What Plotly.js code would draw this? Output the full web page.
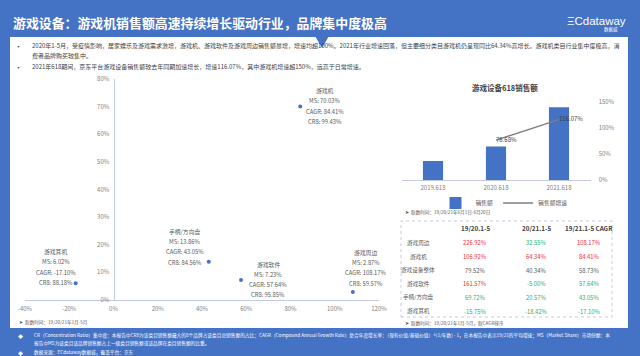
<!DOCTYPE html>
<html><head><meta charset="utf-8">
<script src="https://cdn.plot.ly/plotly-3.0.1.min.js"></script>
<style>html,body{margin:0;padding:0;background:#4472c4;}#chart{width:640px;height:356px;}</style>
</head><body><div id="chart"></div>
<script>
// ---------- data ----------
const segNames = ['游戏机','手柄/方向盘','游戏软件','游戏周边','游戏耳机'];
const segMS    = [70.03, 13.86, 7.23, 2.87, 6.02];
const segCAGR  = [84.41, 43.05, 57.64, 108.17, -17.10];
const segCR8   = [99.43, 84.56, 95.85, 59.57, 88.18];
const scatterXTicks = [-40,-20,0,20,40,60,80,100,120];
const scatterYTicks = [0,10,20,30,40,50,60,70,80];

const years618   = ['2019.618','2020.618','2021.618'];
const sales618   = [100, 176.68, 381.75];      // relative sales index (2019 = 100)
const growth618  = [null, 76.68, 116.07];      // %
const growthTicks = [0,50,100,150];

const tableRows  = ['游戏周边','游戏机','游戏设备整体','游戏软件','手柄/方向盘','游戏耳机'];
const tableHeads = ['19/20.1-5', '20/21.1-5', '19/21.1-5 CAGR'];
const g1920      = [226.92, 106.92, 79.52, 161.57, 69.72, -15.75];
const g2021      = [32.55, 64.34, 40.34, -5.00, 20.57, -18.42];
const cagr1921   = [108.17, 84.41, 58.73, 57.64, 43.05, -17.10];

const titleText = '游戏设备：游戏机销售额高速持续增长驱动行业，品牌集中度极高';
const bulletLines = [
  '2020年1-5月，受疫情影响，居家娱乐及游戏需求激增，游戏机、游戏软件及游戏周边销售额暴增，增速均超100%。2021年行业增速回落，但主要细分类目游戏机仍呈现同比64.34%高增长。游戏机类目行业集中度极高，消',
  '费者品牌购买较集中。',
  '2021年618期间，京东平台游戏设备销售额较去年同期加速增长，增速116.07%，其中游戏机增速超150%，远高于日常增速。'
];
const footerLines = [
  'CR（Concentration Ratio）集中度：本报告中CR8为该类目销售额最大的8个品牌占该类目总销售额的占比；CAGR（Compound Annual Growth Rate）复合年度增长率：（现有价值/基础价值）^(1/年数) - 1，在本报告中表示19/21的平均增速；MS（Market Share）市场份额：本',
  '报告中MS为该类目该品牌销售额占上一级类目销售额或该品牌在类目销售额的比重。',
  '数据来源：ECdataway数据威，覆盖平台：京东'
];

// ---------- helpers ----------
const W = 640, H = 356;
const px = x => x / W;
const py = y => 1 - y / H;
const FONT = 'Noto Sans CJK SC, Noto Sans, sans-serif';
const BLUE = '#4472c4';
const GRAY = '#7f7f7f';
const DARK = '#404040';
const MID = '#595959';
const RED = '#f0283c';
const GREEN = '#22b36c';
const fmt = v => v.toFixed(2) + '%';

// label offsets (pixel position of label block centre relative to point)
const labelOffsets = [[25,0.5],[-24,15],[27,0.5],[13,24.5],[-20,16.5]];

// ---------- traces ----------
const scatter = {
  type:'scatter', mode:'markers', x:segCAGR, y:segMS, xaxis:'x', yaxis:'y',
  marker:{color:BLUE, size:4}, showlegend:false, hoverinfo:'skip'
};
const bars = {
  type:'bar', name:'销售额', x:years618, y:sales618, xaxis:'x2', yaxis:'y2',
  marker:{color:BLUE}, hoverinfo:'skip'
};
const line = {
  type:'scatter', mode:'lines+text', name:'销售额增速', x:years618, y:growth618,
  xaxis:'x2', yaxis:'y3', line:{color:GRAY, width:1.5},
  text: growth618.map(v => v==null ? '' : fmt(v)), textposition:'middle right',
  textfont:{size:6, color:DARK}, hoverinfo:'skip', connectgaps:false
};

// ---------- annotations ----------
const ann = [];
ann.push({xref:'paper', yref:'paper', x:px(11), y:py(23), xanchor:'left', yanchor:'middle',
  text:'<b>'+titleText+'</b>', showarrow:false, font:{family:FONT, size:12.9, color:'#ffffff'}});
ann.push({xref:'paper', yref:'paper', x:px(628), y:py(21), xanchor:'right', yanchor:'middle',
  text:'ΞCdataway', showarrow:false, font:{family:'Liberation Sans, sans-serif', size:11.5, color:'#ffffff'}});
ann.push({xref:'paper', yref:'paper', x:px(620), y:py(29.5), xanchor:'right', yanchor:'middle',
  text:'数据威', showarrow:false, font:{family:FONT, size:4.5, color:'#ffffff'}});

const bulletY = [45, 55.5, 66];
bulletLines.forEach((t,i) => {
  if (i !== 1) ann.push({xref:'paper', yref:'paper', x:px(18), y:py(bulletY[i]), xanchor:'center', yanchor:'middle',
    text:'▪', showarrow:false, font:{family:FONT, size:5, color:DARK}});
  ann.push({xref:'paper', yref:'paper', x:px(30), y:py(bulletY[i]), xanchor:'left', yanchor:'middle',
    text:t, showarrow:false, font:{family:FONT, size:6, color:DARK}});
});

// scatter point labels
segNames.forEach((n,i) => {
  const lines = [n, 'MS: '+fmt(segMS[i]), 'CAGR: '+fmt(segCAGR[i]), 'CR8: '+fmt(segCR8[i])];
  const [dx, dy] = labelOffsets[i];
  lines.forEach((t,k) => {
    ann.push({xref:'x', yref:'y', x:segCAGR[i], y:segMS[i], xanchor:'center', yanchor:'middle',
      xshift:dx, yshift:dy + (1.5 - k) * 10.3, text:t, showarrow:false,
      font:{family:FONT, size:5.8, color:MID}});
  });
});

// bar chart title
ann.push({xref:'paper', yref:'paper', x:px(505), y:py(87), xanchor:'center', yanchor:'middle',
  text:'<b>游戏设备618销售额</b>', showarrow:false, font:{family:FONT, size:7.5, color:DARK}});

// table (built from the table arrays)
const colX = [418, 475, 536, 589];
const headY = 228, rowY0 = 243, rowStep = 13.6;
const overallIdx = tableRows.indexOf('游戏设备整体');
function cellColor(arr, i) {
  if (i === overallIdx) return MID;
  return arr[i] > arr[overallIdx] ? RED : GREEN;
}
tableHeads.forEach((h,j) => ann.push({xref:'paper', yref:'paper', x:px(colX[j+1]), y:py(headY),
  xanchor:'center', yanchor:'middle', text:'<b>'+h+'</b>', showarrow:false,
  font:{family:FONT, size:6.3, color:DARK}}));
const tableCols = [g1920, g2021, cagr1921];
tableRows.forEach((r,i) => {
  const yy = py(rowY0 + i * rowStep);
  ann.push({xref:'paper', yref:'paper', x:px(colX[0]), y:yy, xanchor:'center', yanchor:'middle',
    text:r, showarrow:false, font:{family:FONT, size:5.6, color:MID}});
  tableCols.forEach((col,j) => ann.push({xref:'paper', yref:'paper', x:px(colX[j+1]), y:yy,
    xanchor:'center', yanchor:'middle', text:fmt(col[i]), showarrow:false,
    font:{family:FONT, size:5.8, color:cellColor(col, i)}}));
});

// source notes
const notes = [
  [403, 212, '➤  取数时间：19/20/21年6月1日-6月20日'],
  [403, 323, '➤  取数时间：19/20/21年1月-5月，取CAGR排序'],
  [17, 322, '➤  取数时间：19/20/21年1月-5月']
];
notes.forEach(([x,y,t]) => ann.push({xref:'paper', yref:'paper', x:px(x), y:py(y), xanchor:'left', yanchor:'middle',
  text:t, showarrow:false, font:{family:FONT, size:4.6, color:MID}}));

// footer
const footY = [335, 343.5, 352];
footerLines.forEach((t,i) => {
  if (i !== 1) ann.push({xref:'paper', yref:'paper', x:px(20), y:py(footY[i]), xanchor:'center', yanchor:'middle',
    text:'◆', showarrow:false, font:{family:FONT, size:5, color:'#ffffff'}});
  ann.push({xref:'paper', yref:'paper', x:px(32), y:py(footY[i]), xanchor:'left', yanchor:'middle',
    text:t, showarrow:false, font:{family:FONT, size:4.7, color:'#ffffff'}});
});

// ---------- shapes ----------
const shapes = [
  {type:'rect', xref:'paper', yref:'paper', x0:px(10), x1:px(628), y0:py(328), y1:py(37),
    fillcolor:'#ffffff', line:{width:0}, layer:'below'},
  {type:'path', xref:'paper', yref:'paper',
    path:`M ${px(315)} ${py(36)} L ${px(329)} ${py(36)} L ${px(322)} ${py(48)} Z`,
    fillcolor:BLUE, line:{width:0}, layer:'above'},
  {type:'rect', xref:'paper', yref:'paper', x0:px(401), x1:px(612), y0:py(317), y1:py(221),
    fillcolor:'rgba(0,0,0,0)', line:{color:'#b8bcdc', width:0.8, dash:'dot'}, layer:'above'}
];

// ---------- layout ----------
const axisLine = '#c3c8e3';
const layout = {
  width:W, height:H, margin:{l:0, r:0, t:0, b:0},
  paper_bgcolor:BLUE, plot_bgcolor:'rgba(0,0,0,0)',
  font:{family:FONT, size:6, color:GRAY},
  showlegend:true,
  legend:{orientation:'h', x:px(504), xanchor:'center', y:py(203), yanchor:'middle',
    font:{family:FONT, size:5.8, color:MID}, bgcolor:'rgba(0,0,0,0)', itemwidth:30, tracegroupgap:0},
  xaxis:{domain:[px(25), px(379)], range:[-40,120], tickvals:scatterXTicks,
    ticktext:scatterXTicks.map(v => v+'%'), showgrid:false, zeroline:false,
    showline:true, linecolor:axisLine, linewidth:1, anchor:'y',
    ticks:'outside', ticklen:3, tickcolor:'rgba(0,0,0,0)',
    tickfont:{size:6, color:GRAY}, fixedrange:true},
  yaxis:{domain:[py(300), py(79)], range:[0,80], tickvals:scatterYTicks,
    ticktext:scatterYTicks.map(v => v+'%'), showgrid:false, zeroline:false,
    showline:true, linecolor:axisLine, linewidth:1, anchor:'free', position:px(113.5),
    ticks:'outside', ticklen:3, tickcolor:'rgba(0,0,0,0)',
    tickfont:{size:6, color:GRAY}, fixedrange:true},
  xaxis2:{domain:[px(401.5), px(590.5)], anchor:'y2', type:'category',
    showgrid:false, zeroline:false, showline:true, linecolor:axisLine, linewidth:1,
    ticks:'outside', ticklen:2, tickcolor:'rgba(0,0,0,0)',
    tickfont:{size:6, color:GRAY}, fixedrange:true},
  yaxis2:{domain:[py(180), py(102)], anchor:'x2', range:[0,410], visible:false, fixedrange:true},
  yaxis3:{overlaying:'y2', anchor:'x2', side:'right', range:[0,150], tickvals:growthTicks,
    ticktext:growthTicks.map(v => v+'%'), showgrid:false, zeroline:false, showline:false,
    ticks:'outside', ticklen:6, tickcolor:'rgba(0,0,0,0)',
    tickfont:{size:6, color:GRAY}, fixedrange:true},
  bargap:0.68,
  annotations:ann,
  shapes:shapes
};

Plotly.newPlot('chart', [scatter, bars, line], layout, {displayModeBar:false, staticPlot:true});
</script>
</body></html>
